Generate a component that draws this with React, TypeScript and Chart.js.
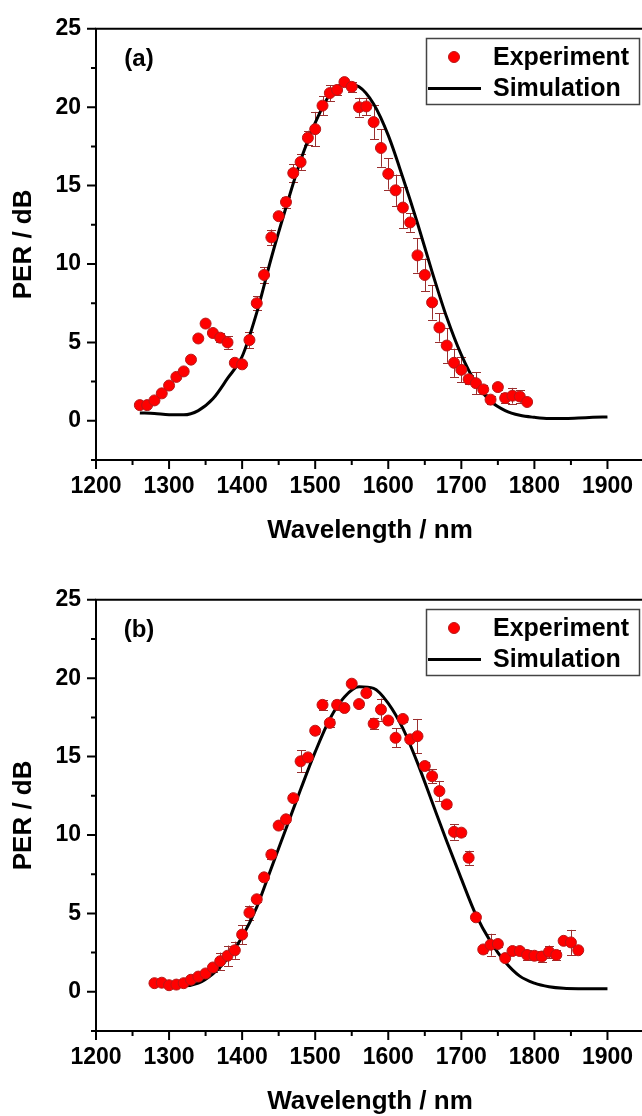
import React, { useEffect, useRef } from "react";
import { Chart, registerables } from "chart.js";

Chart.register(...registerables);

const FONT = "'Liberation Sans', Arial, Helvetica, sans-serif";

// ---------- Panel (a) ----------
const expA_x = [1260, 1270, 1280, 1290, 1300, 1310, 1320, 1330, 1340, 1350, 1360, 1370, 1380, 1390, 1400, 1410, 1420, 1430, 1440, 1450, 1460, 1470, 1480, 1490, 1500, 1510, 1520, 1530, 1540, 1550, 1560, 1570, 1580, 1590, 1600, 1610, 1620, 1630, 1640, 1650, 1660, 1670, 1680, 1690, 1700, 1710, 1720, 1730, 1740, 1750, 1760, 1770, 1780, 1790];
const expA_y = [1.0, 1.0, 1.3, 1.75, 2.25, 2.8, 3.15, 3.9, 5.25, 6.2, 5.6, 5.3, 5.0, 3.7, 3.6, 5.15, 7.5, 9.3, 11.7, 13.05, 13.95, 15.8, 16.5, 18.05, 18.6, 20.1, 20.9, 21.1, 21.6, 21.3, 20.0, 20.05, 19.05, 17.4, 15.75, 14.7, 13.6, 12.65, 10.55, 9.3, 7.55, 5.95, 4.8, 3.7, 3.25, 2.65, 2.4, 2.0, 1.35, 2.15, 1.45, 1.6, 1.55, 1.2];
const expA_err = [0, 0, 0, 0, 0, 0, 0, 0, 0, 0, 0.15, 0.3, 0.4, 0.15, 0.15, 0.5, 0.45, 0.5, 0.5, 0.2, 0.35, 0.55, 0.5, 0.45, 1.1, 0.6, 0.5, 0.3, 0.2, 0.3, 0.6, 0.55, 1.1, 1.2, 1.0, 1.0, 1.3, 0.6, 1.1, 1.05, 1.1, 0.9, 1.1, 0.9, 0.8, 0.3, 0.7, 0.3, 0.25, 0.2, 0.3, 0.5, 0.4, 0.1];
const simA_x = [1260, 1280, 1300, 1320, 1340, 1360, 1380, 1400, 1420, 1440, 1460, 1480, 1500, 1520, 1540, 1560, 1580, 1600, 1620, 1640, 1660, 1680, 1700, 1720, 1740, 1760, 1780, 1800, 1820, 1840, 1860, 1880, 1900];
const simA_y = [0.5, 0.47, 0.38, 0.38, 0.65, 1.4, 2.7, 4.1, 6.9, 10.4, 13.6, 16.6, 19.0, 20.8, 21.5, 21.3, 20.2, 18.2, 15.5, 12.6, 9.5, 6.6, 4.2, 2.4, 1.25, 0.65, 0.35, 0.22, 0.15, 0.15, 0.18, 0.22, 0.25];

// ---------- Panel (b) ----------
const expB_x = [1280, 1290, 1300, 1310, 1320, 1330, 1340, 1350, 1360, 1370, 1380, 1390, 1400, 1410, 1420, 1430, 1440, 1450, 1460, 1470, 1480, 1490, 1500, 1510, 1520, 1530, 1540, 1550, 1560, 1570, 1580, 1590, 1600, 1610, 1620, 1630, 1640, 1650, 1660, 1670, 1680, 1690, 1700, 1710, 1720, 1730, 1740, 1750, 1760, 1770, 1780, 1790, 1800, 1810, 1820, 1830, 1840, 1850, 1860];
const expB_y = [0.55, 0.58, 0.42, 0.46, 0.55, 0.77, 0.97, 1.17, 1.55, 1.95, 2.3, 2.65, 3.65, 5.05, 5.9, 7.3, 8.75, 10.6, 11.0, 12.35, 14.7, 14.95, 16.65, 18.3, 17.15, 18.3, 18.1, 19.65, 18.35, 19.05, 17.1, 18.0, 17.3, 16.2, 17.4, 16.1, 16.3, 14.4, 13.75, 12.8, 11.95, 10.2, 10.15, 8.55, 4.75, 2.7, 3.0, 3.05, 2.15, 2.6, 2.6, 2.35, 2.3, 2.25, 2.55, 2.35, 3.25, 3.15, 2.65];
const expB_err = [0.1, 0.1, 0.1, 0.1, 0.1, 0.15, 0.15, 0.1, 0.3, 0.55, 0.65, 0.55, 0.6, 0.45, 0.15, 0.15, 0.3, 0.2, 0.15, 0.2, 0.7, 0.15, 0.2, 0.3, 0.25, 0.3, 0.15, 0.1, 0.2, 0.15, 0.35, 0.7, 0.2, 0.6, 0.2, 0.15, 1.1, 0.25, 0.45, 0.65, 0.15, 0.5, 0.2, 0.45, 0.15, 0.2, 0.7, 0.2, 0.2, 0.15, 0.15, 0.3, 0.25, 0.35, 0.4, 0.3, 0.15, 0.8, 0.15];
const simB_x = [1280, 1300, 1320, 1340, 1360, 1380, 1400, 1420, 1440, 1460, 1480, 1500, 1520, 1540, 1560, 1580, 1600, 1620, 1640, 1660, 1680, 1700, 1720, 1740, 1760, 1780, 1800, 1820, 1840, 1860, 1880, 1900];
const simB_y = [0.45, 0.4, 0.38, 0.55, 1.15, 2.1, 3.5, 5.4, 7.9, 10.4, 12.9, 15.3, 17.4, 18.8, 19.45, 19.35, 18.4, 16.8, 14.6, 12.1, 9.6, 7.2, 4.9, 3.2, 1.9, 1.0, 0.55, 0.32, 0.22, 0.2, 0.2, 0.2];

// ---------- Axes ----------
const X_MIN = 1200;
const X_MAX = 1950;
const X_STEP = 100;
const Y_MIN = -2.5;
const Y_MAX = 25;
const Y_STEP = 5;
const X_TITLE = "Wavelength / nm";
const Y_TITLE = "PER / dB";
const SERIES_NAMES = ["Experiment", "Simulation"];

const CANVAS_W = 660;
const CANVAS_H = 560;

const errorBarsPlugin = {
  id: "errorBars",
  beforeDatasetsDraw(chart: any) {
    const { ctx, scales } = chart;
    const x = scales.x;
    const y = scales.y;
    const ds = chart.data.datasets[0];
    const errs: number[] = ds.errors || [];
    ctx.save();
    ctx.strokeStyle = "#9a2f2f";
    ctx.lineWidth = 1;
    ds.data.forEach((p: any, i: number) => {
      const e = errs[i];
      if (!e) return;
      const px = Math.round(x.getPixelForValue(p.x)) + 0.5;
      const y1 = y.getPixelForValue(p.y + e);
      const y2 = y.getPixelForValue(p.y - e);
      ctx.beginPath();
      ctx.moveTo(px, y1);
      ctx.lineTo(px, y2);
      ctx.moveTo(px - 4.5, Math.round(y1) + 0.5);
      ctx.lineTo(px + 4.5, Math.round(y1) + 0.5);
      ctx.moveTo(px - 4.5, Math.round(y2) + 0.5);
      ctx.lineTo(px + 4.5, Math.round(y2) + 0.5);
      ctx.stroke();
    });
    ctx.restore();
  },
};

const frameTicksPlugin = {
  id: "frameTicks",
  afterDraw(chart: any) {
    const { ctx, chartArea: a, scales } = chart;
    const x = scales.x;
    const y = scales.y;
    ctx.save();
    ctx.strokeStyle = "#000";
    ctx.lineWidth = 2;
    ctx.beginPath();
    ctx.moveTo(a.right + 10, a.top);
    ctx.lineTo(a.left, a.top);
    ctx.lineTo(a.left, a.bottom);
    ctx.lineTo(a.right + 10, a.bottom);
    ctx.stroke();
    const xt = x.ticks.map((t: any) => t.value);
    ctx.beginPath();
    xt.forEach((v: number) => {
      const px = x.getPixelForValue(v);
      ctx.moveTo(px, a.bottom);
      ctx.lineTo(px, a.bottom + 9);
      const mv = v + X_STEP / 2;
      if (mv <= X_MAX) {
        const pm = x.getPixelForValue(mv);
        ctx.moveTo(pm, a.bottom);
        ctx.lineTo(pm, a.bottom + 5);
      }
    });
    const yt = y.ticks.map((t: any) => t.value);
    yt.forEach((v: number) => {
      const py = y.getPixelForValue(v);
      ctx.moveTo(a.left, py);
      ctx.lineTo(a.left - 9, py);
      const mv = v - Y_STEP / 2;
      if (mv >= Y_MIN) {
        const pm = y.getPixelForValue(mv);
        ctx.moveTo(a.left, pm);
        ctx.lineTo(a.left - 5, pm);
      }
    });
    ctx.stroke();
    ctx.restore();
  },
};

const legendPlugin = {
  id: "boxLegend",
  afterDraw(chart: any, _args: any, opts: any) {
    const { ctx } = chart;
    const ds = chart.data.datasets;
    ctx.save();
    ctx.fillStyle = "#000";
    ctx.font = `bold 24px ${FONT}`;
    ctx.textAlign = "center";
    ctx.textBaseline = "middle";
    ctx.fillText(opts.panel, 139, 59);
    ctx.strokeStyle = "#444";
    ctx.lineWidth = 1.5;
    ctx.strokeRect(426.5, 38.5, 213, 66);
    ctx.beginPath();
    ctx.arc(454, 57, 5.5, 0, Math.PI * 2);
    ctx.fillStyle = "#ff0000";
    ctx.fill();
    ctx.lineWidth = 1;
    ctx.strokeStyle = "#b81818";
    ctx.stroke();
    ctx.beginPath();
    ctx.moveTo(428, 88.5);
    ctx.lineTo(481, 88.5);
    ctx.lineWidth = 3;
    ctx.strokeStyle = "#000";
    ctx.stroke();
    ctx.fillStyle = "#000";
    ctx.font = `bold 25px ${FONT}`;
    ctx.textAlign = "left";
    ctx.fillText(ds[0].label, 493, 58);
    ctx.fillText(ds[1].label, 493, 89);
    ctx.restore();
  },
};

function makeConfig(panel: string, ex: number[], ey: number[], ee: number[], sx: number[], sy: number[]): any {
  const tickFont = { family: FONT, size: 23, weight: "bold" as const };
  const titleFont = { family: FONT, size: 26, weight: "bold" as const };
  return {
    type: "scatter",
    data: {
      datasets: [
        {
          type: "scatter",
          label: SERIES_NAMES[0],
          data: ex.map((x, i) => ({ x, y: ey[i] })),
          errors: ee,
          pointRadius: 5.5,
          pointHoverRadius: 5.5,
          backgroundColor: "#ff0000",
          borderColor: "#b81818",
          borderWidth: 1,
        },
        {
          type: "line",
          label: SERIES_NAMES[1],
          data: sx.map((x, i) => ({ x, y: sy[i] })),
          borderColor: "#000",
          borderWidth: 3,
          pointRadius: 0,
          fill: false,
          cubicInterpolationMode: "monotone",
        },
      ],
    },
    options: {
      responsive: false,
      animation: false,
      devicePixelRatio: 1,
      layout: { padding: { top: 20, right: CANVAS_W - 644, bottom: 0, left: 0 } },
      plugins: {
        legend: { display: false },
        tooltip: { enabled: false },
        boxLegend: { panel },
      },
      scales: {
        x: {
          type: "linear",
          min: X_MIN,
          max: X_MAX,
          grid: { display: false, drawTicks: false },
          border: { display: false },
          ticks: {
            stepSize: X_STEP,
            includeBounds: false,
            autoSkip: false,
            maxRotation: 0,
            padding: 13,
            color: "#000",
            font: tickFont,
            callback: (v: any) => String(v),
          },
          title: {
            display: true,
            text: X_TITLE,
            color: "#000",
            font: titleFont,
            padding: { top: 0, bottom: 14 },
          },
          afterFit: (s: any) => {
            s.height = 100;
          },
        },
        y: {
          type: "linear",
          min: Y_MIN,
          max: Y_MAX,
          grid: { display: false, drawTicks: false },
          border: { display: false },
          ticks: {
            stepSize: Y_STEP,
            includeBounds: false,
            padding: 15,
            color: "#000",
            font: tickFont,
            callback: (v: any) => String(v),
          },
          title: {
            display: true,
            text: Y_TITLE,
            color: "#000",
            font: titleFont,
            padding: { top: 8, bottom: 0 },
          },
          afterFit: (s: any) => {
            s.width = 96;
          },
        },
      },
    },
    plugins: [errorBarsPlugin, frameTicksPlugin, legendPlugin],
  };
}

function Panel(props: { top: number; build: () => any }) {
  const ref = useRef<HTMLCanvasElement | null>(null);
  useEffect(() => {
    if (!ref.current) return;
    const chart = new Chart(ref.current, props.build());
    return () => chart.destroy();
  }, []);
  return (
    <canvas
      ref={ref}
      width={CANVAS_W}
      height={CANVAS_H}
      style={{ position: "absolute", left: 0, top: props.top, width: CANVAS_W, height: CANVAS_H }}
    />
  );
}

export default function App() {
  return (
    <div
      style={{
        position: "absolute",
        left: 0,
        top: 0,
        width: 642,
        height: 1116,
        overflow: "hidden",
        background: "#fff",
      }}
    >
      <Panel top={0} build={() => makeConfig("(a)", expA_x, expA_y, expA_err, simA_x, simA_y)} />
      <Panel top={571} build={() => makeConfig("(b)", expB_x, expB_y, expB_err, simB_x, simB_y)} />
    </div>
  );
}
